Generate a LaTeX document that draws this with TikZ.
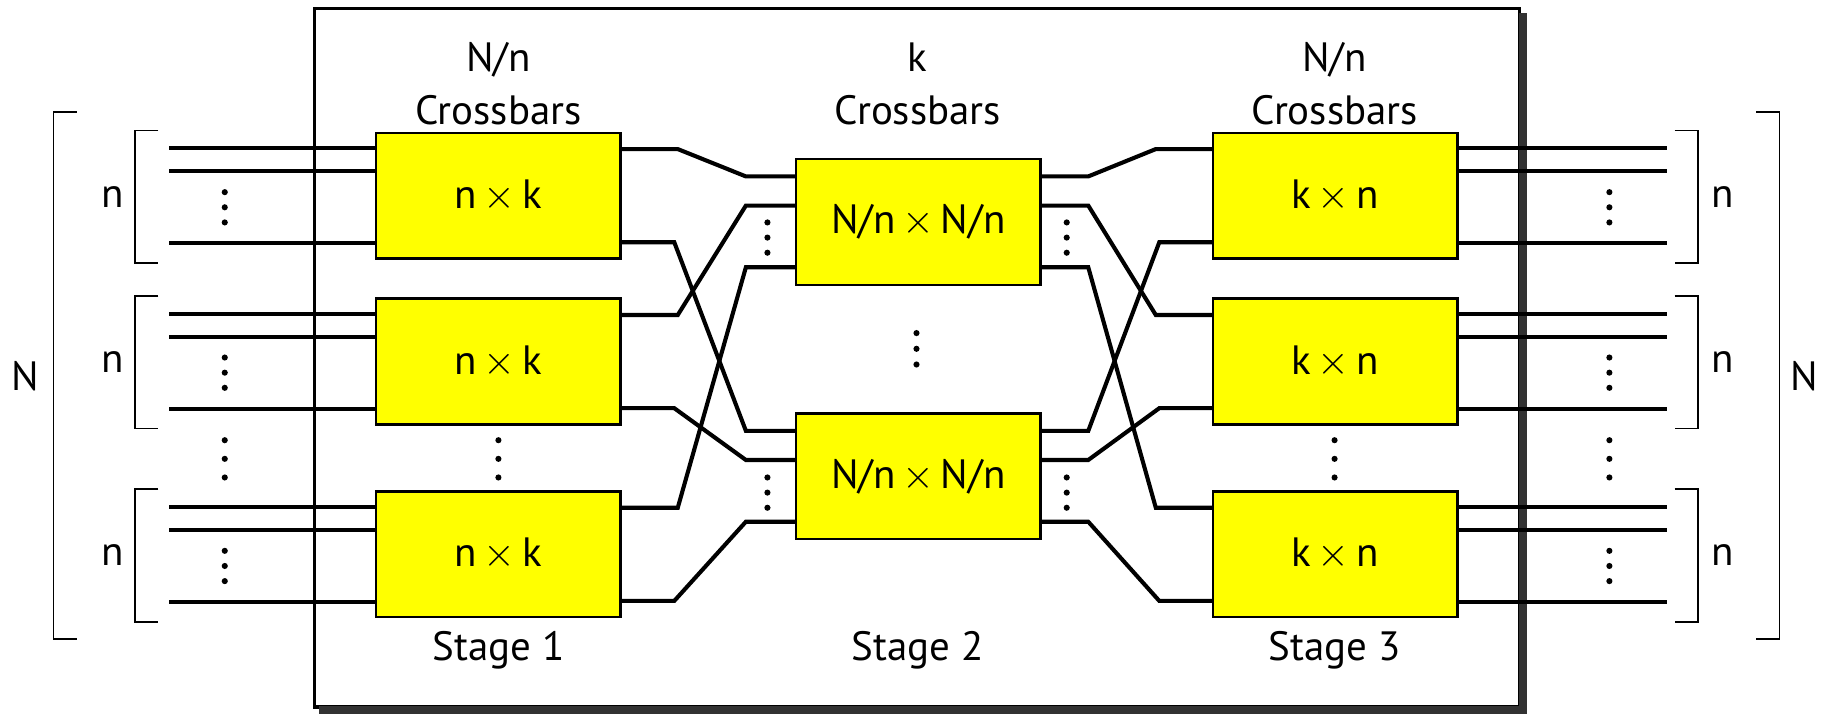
\documentclass[tikz,border=0pt]{standalone}
\usepackage{fontspec}
\setmainfont{PT Sans}
\usetikzlibrary{calc,positioning}
\definecolor{barYellow}{RGB}{255,255,0}
\definecolor{shadowGray}{RGB}{50,50,50}

\tikzset{
  xbar/.style={draw, line width=0.6pt, fill=barYellow, minimum width=21mm, minimum height=10.8mm, inner sep=0pt, outer sep=0pt, font=\fontsize{10}{12.8}\selectfont},
  wire/.style={line width=1pt},
  brak/.style={line width=0.45pt},
  lbl/.style={font=\fontsize{10}{12.8}\selectfont, align=center, inner sep=0pt},
}
\newcommand{\dotcol}[3]{\foreach \k in {0,1,2}{\fill (#1,#2+\k*#3) circle[radius=0.75pt];}}

\begin{document}
\begin{tikzpicture}[x=0.1mm, y=-0.1mm]
\useasboundingbox (0,0) rectangle (1568,614);

% Frame with shadow
\node[draw, line width=0.8pt, minimum width=103.5mm, minimum height=60mm, inner sep=0pt, outer sep=0pt] (frame) at (787.5,307) {};
\draw[shadowGray, line width=2pt] ([xshift=0.4mm, yshift=-0.25mm]frame.south west) -- ([xshift=0.25mm, yshift=-0.25mm]frame.south east) -- ([xshift=0.25mm, yshift=-0.4mm]frame.north east);

% Headers
\node[lbl] (h1) at (428,72) {N/n\\Crossbars};
\node[lbl] (h2) at (788,72) {k\\Crossbars};
\node[lbl] (h3) at (1146,72) {N/n\\Crossbars};
\node[lbl] (st1) at (428,558) {Stage 1};
\node[lbl] (st2) at (788,558) {Stage 2};
\node[lbl] (st3) at (1146,558) {Stage 3};

% Crossbars
\node[xbar] (s1a) at (428,168) {n\,$\times$\,k};
\node[xbar] (s1b) at (428,310.5) {n\,$\times$\,k};
\node[xbar] (s1c) at (428,476) {n\,$\times$\,k};
\node[xbar] (s2a) at (788.5,190.5) {N/n\,$\times$\,N/n};
\node[xbar] (s2b) at (788.5,409) {N/n\,$\times$\,N/n};
\node[xbar] (s3a) at (1146.5,168) {k\,$\times$\,n};
\node[xbar] (s3b) at (1146.5,310.5) {k\,$\times$\,n};
\node[xbar] (s3c) at (1146.5,476) {k\,$\times$\,n};

% Inputs and outputs
\foreach \r in {a,b,c}{
  \foreach \d in {13,33,95}{
    \draw[wire] ($(s1\r.north west)+(0,\d)$) -- ++(-178,0);
    \draw[wire] ($(s3\r.north east)+(0,\d)$) -- ++(180,0);
  }
}

% Stage 1 to stage 2
\foreach \r/\d in {a/15,b/40,c/93}{
  \draw[wire] ($(s1\r.north east)+(0,14)$) -- ++(49,0) -- ($(s2a.north west)+(-43,\d)$) -- ($(s2a.north west)+(0,\d)$);
  \draw[wire] ($(s1\r.north east)+(0,94)$) -- ++(46,0) -- ($(s2b.north west)+(-43,\d)$) -- ($(s2b.north west)+(0,\d)$);
}

% Stage 2 to stage 3
\foreach \r/\d in {a/15,b/40,c/93}{
  \draw[wire] ($(s2a.north east)+(0,\d)$) -- ++(41,0) -- ($(s3\r.north west)+(-49,14)$) -- ($(s3\r.north west)+(0,14)$);
  \draw[wire] ($(s2b.north east)+(0,\d)$) -- ++(41,0) -- ($(s3\r.north west)+(-46,94)$) -- ($(s3\r.north west)+(0,94)$);
}

% Brackets
\foreach \t in {114,256,422}{
  \draw[brak] (136,\t-2) -- (116,\t-2) -- (116,\t+112) -- (136,\t+112);
  \draw[brak] (1438,\t-2) -- (1458,\t-2) -- (1458,\t+112) -- (1438,\t+112);
  \node[lbl] (nl\t) at (97,\t+55) {n};
  \node[lbl] (nr\t) at (1479,\t+55) {n};
  \dotcol{193}{\t+51}{13}
  \dotcol{1382}{\t+51}{13}
}
\draw[brak] (66,96) -- (46,96) -- (46,549) -- (66,549);
\draw[brak] (1508,96) -- (1528,96) -- (1528,549) -- (1508,549);
\node[lbl] (Nl) at (22,323) {N};
\node[lbl] (Nr) at (1549,323) {N};

% Dots
\foreach \x in {193,428,1146,1382}{\dotcol{\x}{378}{16}}
\dotcol{787}{286}{13.5}
\dotcol{659}{191}{13}
\dotcol{659}{410}{13}
\dotcol{916}{191}{13}
\dotcol{916}{410}{13}
\end{tikzpicture}
\end{document}
